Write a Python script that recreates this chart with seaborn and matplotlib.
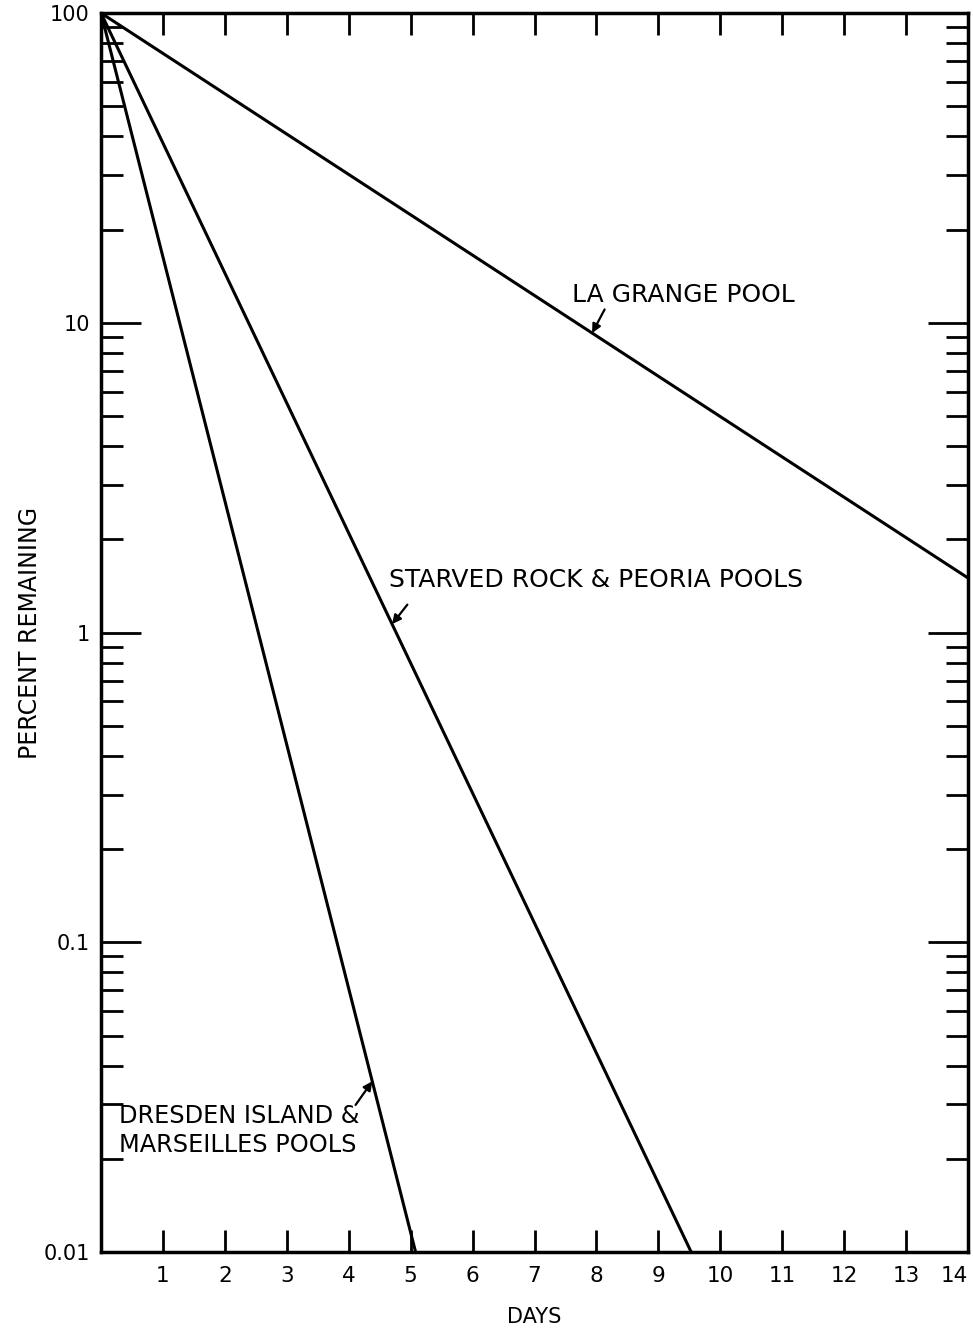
import numpy as np
import pandas as pd
import matplotlib
matplotlib.use("Agg")
import matplotlib.pyplot as plt
import seaborn as sns
from matplotlib.ticker import LogLocator, FixedLocator, NullFormatter

# ---- data (straight-line decay on log scale) ----
series_names = ["LA GRANGE POOL", "STARVED ROCK & PEORIA POOLS", "DRESDEN ISLAND &\nMARSEILLES POOLS"]
la_grange_days = [0, 14]
la_grange_pct = [100, 1.5]
starved_days = [0, 9.53]
starved_pct = [100, 0.01]
dresden_days = [0, 5.08]
dresden_pct = [100, 0.01]
x_ticks = list(range(1, 15))
y_ticks = [0.01, 0.1, 1, 10, 100]
y_tick_labels = ["0.01", "0.1", "1", "10", "100"]

df = pd.concat([
    pd.DataFrame({"days": la_grange_days, "pct": la_grange_pct, "pool": series_names[0]}),
    pd.DataFrame({"days": starved_days, "pct": starved_pct, "pool": series_names[1]}),
    pd.DataFrame({"days": dresden_days, "pct": dresden_pct, "pool": series_names[2]}),
])

sns.set_theme(style="white")
plt.rcParams["font.family"] = ["DejaVu Sans"]
plt.rcParams["text.color"] = "black"
plt.rcParams["axes.labelcolor"] = "black"
plt.rcParams["xtick.color"] = "black"
plt.rcParams["ytick.color"] = "black"

fig = plt.figure(figsize=(9.73, 13.30), dpi=100)
ax = fig.add_axes([0.1038, 0.0586, 0.9949 - 0.1038, 0.9902 - 0.0586])

sns.lineplot(data=df, x="days", y="pct", hue="pool", palette=["black"] * 3,
             legend=False, ax=ax, linewidth=2.2, estimator=None, sort=False)

ax.set_yscale("log")
ax.set_xlim(0, 14)
ax.set_ylim(0.01, 100)

ax.xaxis.set_major_locator(FixedLocator(x_ticks))
ax.set_xticklabels([str(t) for t in x_ticks])
ax.xaxis.get_majorticklabels()[-1].set_horizontalalignment("right")
ax.yaxis.set_major_locator(FixedLocator(y_ticks))
ax.set_yticklabels(y_tick_labels)
ax.yaxis.set_minor_locator(LogLocator(base=10, subs=np.arange(2, 10)))
ax.yaxis.set_minor_formatter(NullFormatter())

ax.tick_params(axis="x", which="major", direction="in", length=16, width=2,
               top=True, bottom=True, labelsize=15.5, pad=10, colors="black")
ax.tick_params(axis="y", which="major", direction="in", length=29, width=2,
               left=True, right=True, labelsize=15, pad=8, colors="black")
ax.tick_params(axis="y", which="minor", direction="in", length=16, width=2,
               left=True, right=True, colors="black")

for s in ax.spines.values():
    s.set_linewidth(2.5)
    s.set_color("black")
    s.set_visible(True)

ax.set_xlabel("DAYS", fontsize=15, color="black")
ax.set_ylabel("PERCENT REMAINING", fontsize=17, color="black")
ax.xaxis.set_label_coords(0.5, -0.044)
ax.yaxis.set_label_coords(-0.068, 0.5)


def on_line(days, pct, d):
    return 10 ** np.interp(d, days, np.log10(pct))


arrow = dict(arrowstyle="-|>", color="black", lw=1.6, mutation_scale=13,
             shrinkA=0, shrinkB=0)
fs = 18

# La Grange
ax.text(7.61, 12.3, series_names[0], fontsize=fs, ha="left", va="center", color="black")
d = 7.93
ax.annotate("", xy=(d, on_line(la_grange_days, la_grange_pct, d)),
            xytext=(9, 17), textcoords="offset points", arrowprops=arrow)

# Starved Rock
ax.text(4.65, 1.48, series_names[1], fontsize=fs, ha="left", va="center", color="black")
d = 4.70
ax.annotate("", xy=(d, on_line(starved_days, starved_pct, d)),
            xytext=(11, 14), textcoords="offset points", arrowprops=arrow)

# Dresden
ax.text(0.29, 0.0247, series_names[2], fontsize=17.3, ha="left", va="center",
        linespacing=1.25, color="black")
d = 4.38
ax.annotate("", xy=(d, on_line(dresden_days, dresden_pct, d)),
            xytext=(-12, -17), textcoords="offset points", arrowprops=arrow)

fig.savefig("out.png", dpi=100, facecolor="white")
